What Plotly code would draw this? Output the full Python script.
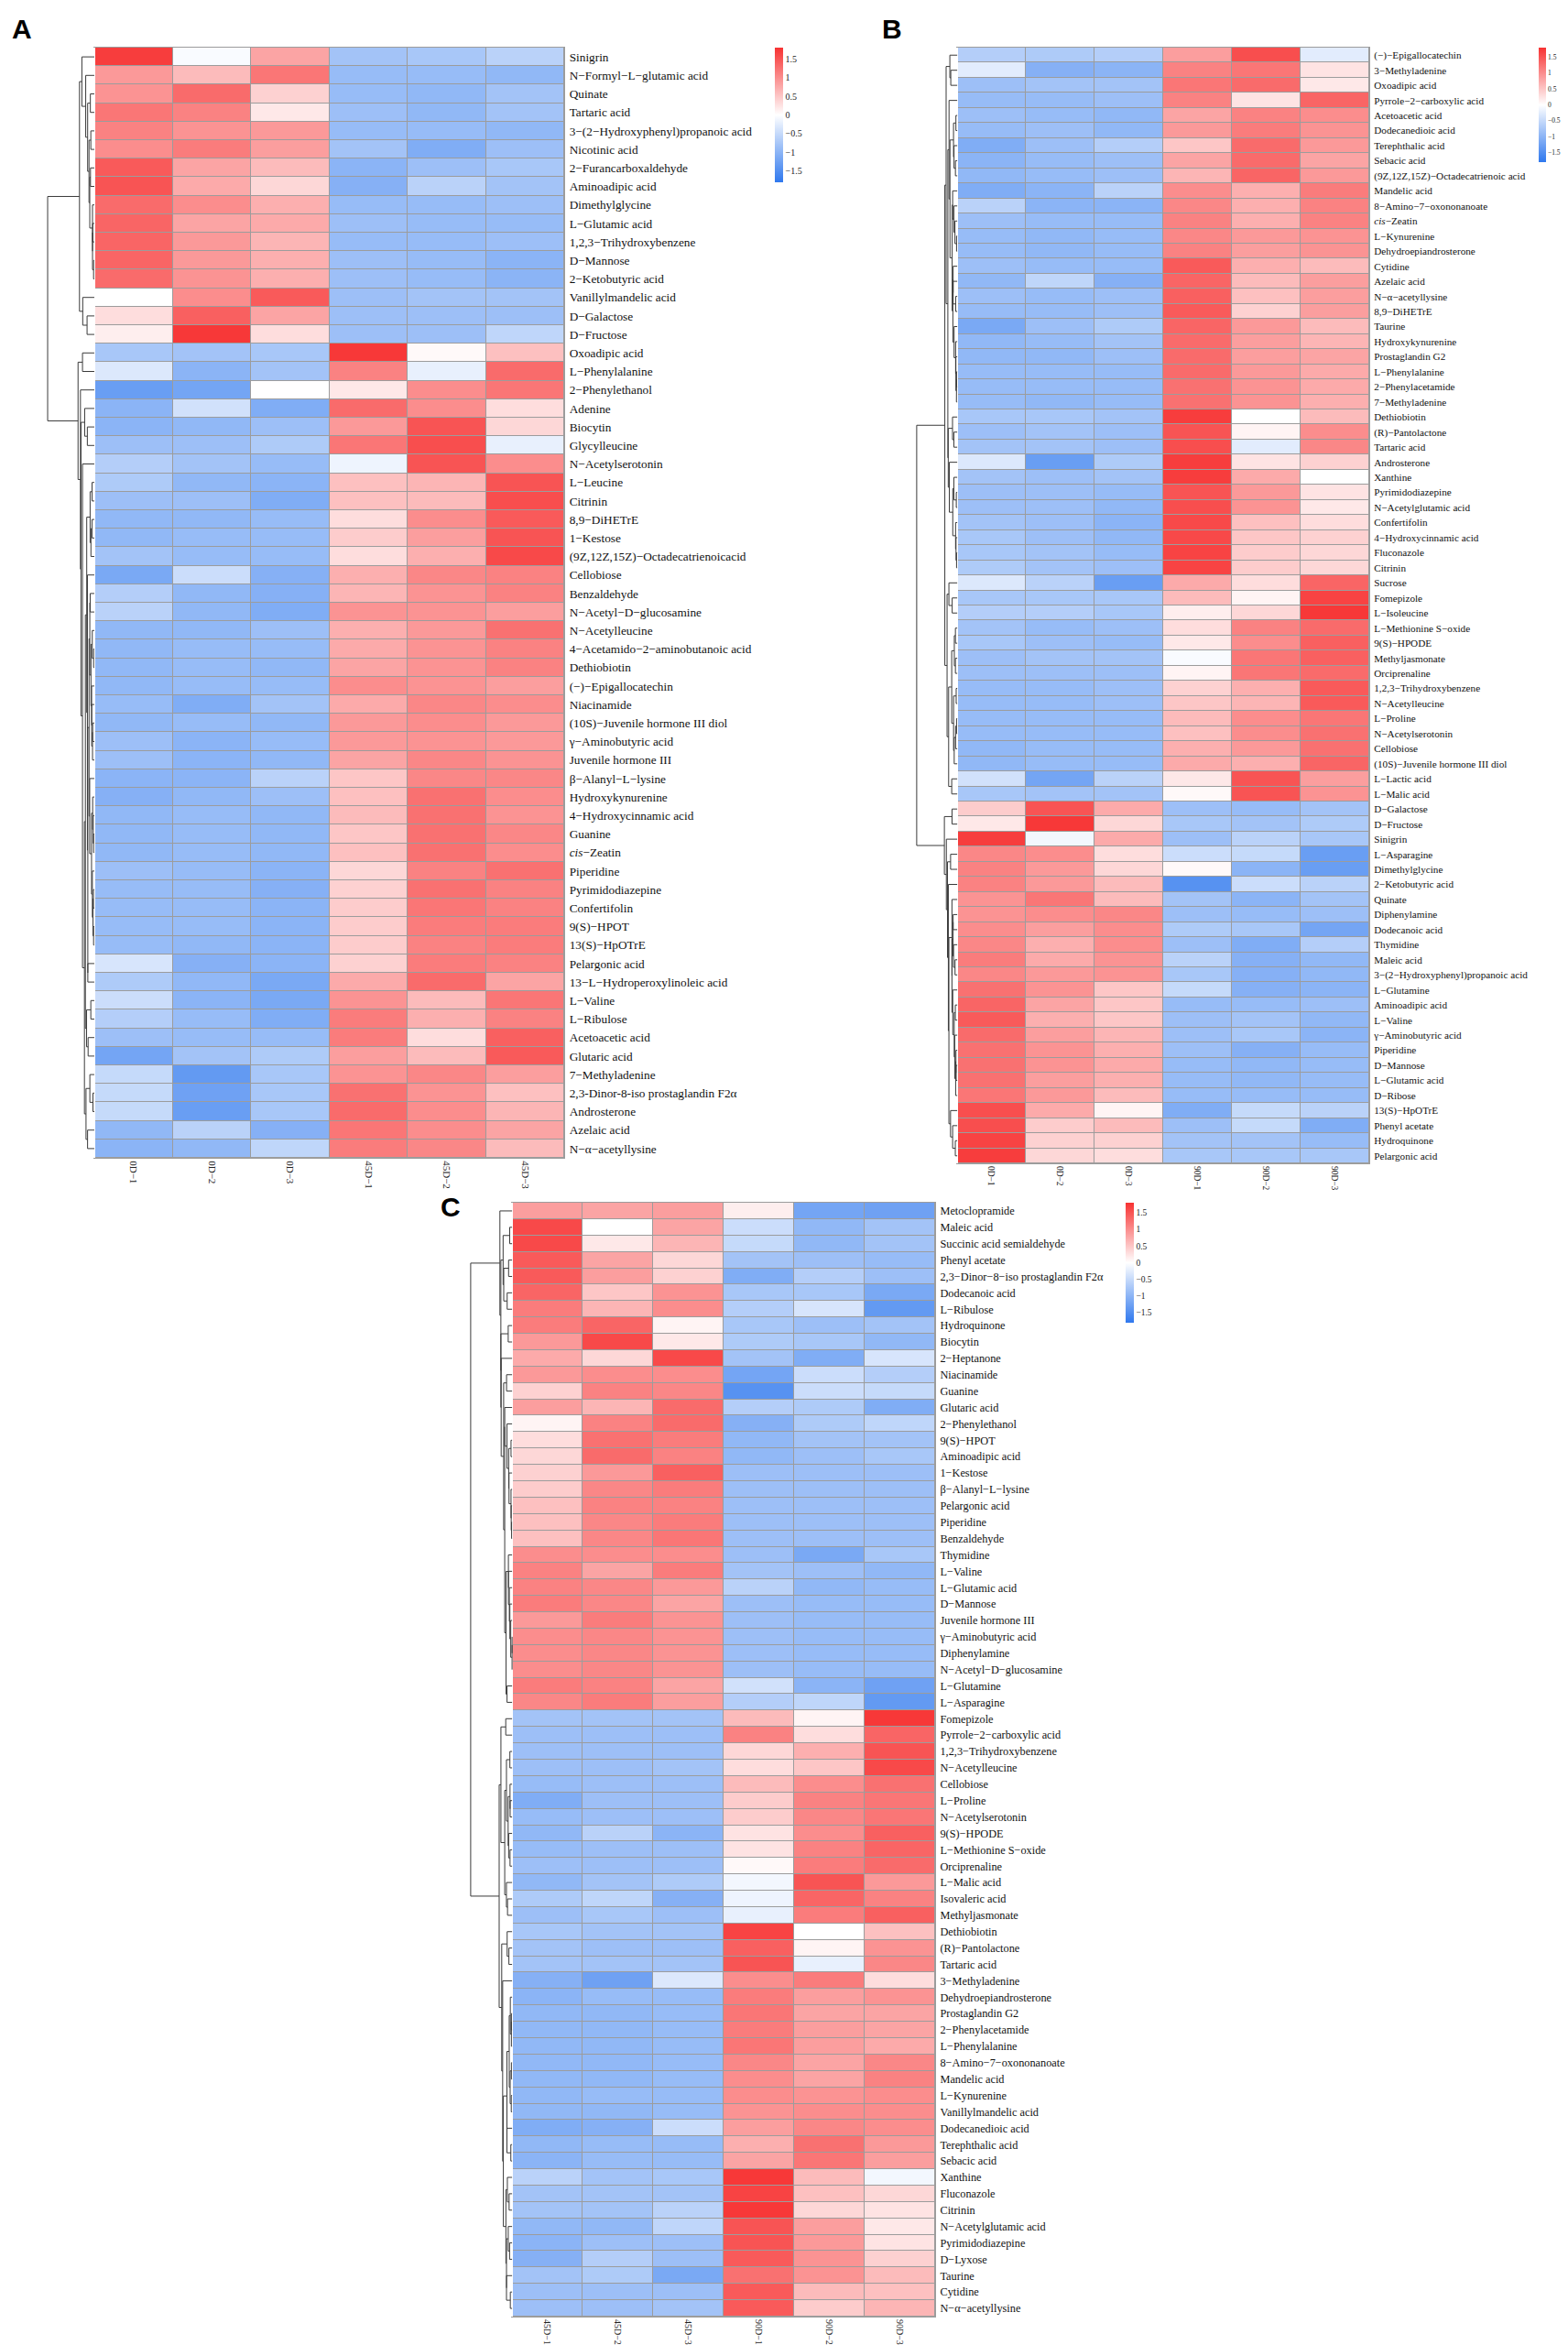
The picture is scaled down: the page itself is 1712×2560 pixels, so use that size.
import numpy as np
import plotly.graph_objects as go

# ---------------- Panel A data ----------------
A_cols = ["0D−1", "0D−2", "0D−3", "45D−1", "45D−2", "45D−3"]
A_rows = ["Sinigrin", "N−Formyl−L−glutamic acid", "Quinate", "Tartaric acid",
          "3−(2−Hydroxyphenyl)propanoic acid", "Nicotinic acid", "2−Furancarboxaldehyde",
          "Aminoadipic acid", "Dimethylglycine", "L−Glutamic acid", "1,2,3−Trihydroxybenzene",
          "D−Mannose", "2−Ketobutyric acid", "Vanillylmandelic acid", "D−Galactose", "D−Fructose",
          "Oxoadipic acid", "L−Phenylalanine", "2−Phenylethanol", "Adenine", "Biocytin",
          "Glycylleucine", "N−Acetylserotonin", "L−Leucine", "Citrinin", "8,9−DiHETrE",
          "1−Kestose", "(9Z,12Z,15Z)−Octadecatrienoicacid", "Cellobiose", "Benzaldehyde",
          "N−Acetyl−D−glucosamine", "N−Acetylleucine", "4−Acetamido−2−aminobutanoic acid",
          "Dethiobiotin", "(−)−Epigallocatechin", "Niacinamide", "(10S)−Juvenile hormone III diol",
          "γ−Aminobutyric acid", "Juvenile hormone III", "β−Alanyl−L−lysine", "Hydroxykynurenine",
          "4−Hydroxycinnamic acid", "Guanine", "<i>cis</i>−Zeatin", "Piperidine", "Pyrimidodiazepine",
          "Confertifolin", "9(S)−HPOT", "13(S)−HpOTrE", "Pelargonic acid",
          "13−L−Hydroperoxylinoleic acid", "L−Valine", "L−Ribulose", "Acetoacetic acid",
          "Glutaric acid", "7−Methyladenine", "2,3-Dinor-8-iso prostaglandin F2α", "Androsterone",
          "Azelaic acid", "N−α−acetyllysine"]
A_vals = [
    [1.7, -0.05, 0.8, -0.8, -0.75, -0.6],
    [0.9, 0.6, 1.2, -0.9, -0.9, -0.95],
    [0.95, 1.3, 0.4, -0.9, -0.95, -0.8],
    [1.2, 1.1, 0.2, -0.85, -0.95, -0.8],
    [1.1, 0.95, 0.9, -0.9, -0.9, -0.95],
    [1.0, 1.15, 0.85, -0.8, -1.1, -0.85],
    [1.45, 0.8, 0.6, -1.0, -0.85, -0.75],
    [1.5, 0.75, 0.35, -1.05, -0.6, -0.8],
    [1.3, 1.0, 0.7, -0.9, -0.9, -0.85],
    [1.35, 0.8, 0.75, -0.85, -0.9, -0.9],
    [1.35, 0.9, 0.65, -0.9, -0.9, -0.85],
    [1.35, 0.9, 0.7, -0.85, -0.9, -1.0],
    [1.3, 0.95, 0.7, -0.85, -0.9, -1.0],
    [0.0, 1.0, 1.45, -0.85, -0.8, -0.8],
    [0.3, 1.4, 0.8, -0.85, -0.85, -0.85],
    [0.15, 1.75, 0.3, -0.85, -0.85, -0.55],
    [-0.75, -0.8, -0.75, 1.75, 0.05, 0.55],
    [-0.3, -1.0, -0.8, 1.1, -0.2, 1.3],
    [-1.3, -1.2, 0.0, 0.2, 1.0, 1.2],
    [-1.0, -0.4, -1.1, 1.3, 1.0, 0.3],
    [-1.0, -0.95, -0.85, 0.9, 1.5, 0.35],
    [-0.85, -0.85, -0.7, 1.2, 1.55, -0.2],
    [-0.65, -0.8, -0.9, -0.15, 1.5, 1.0],
    [-0.7, -0.95, -1.0, 0.55, 0.65, 1.5],
    [-0.85, -0.85, -1.1, 0.55, 0.6, 1.55],
    [-0.95, -0.95, -0.9, 0.3, 1.0, 1.45],
    [-0.95, -0.9, -0.9, 0.45, 0.85, 1.5],
    [-0.8, -0.9, -0.9, 0.3, 0.7, 1.6],
    [-1.15, -0.45, -1.05, 0.7, 1.05, 1.1],
    [-0.65, -0.95, -1.05, 0.65, 0.95, 1.1],
    [-0.6, -0.95, -1.1, 0.95, 0.95, 0.85],
    [-0.95, -0.95, -0.85, 0.7, 0.9, 1.25],
    [-0.95, -0.9, -0.9, 0.75, 0.95, 1.1],
    [-0.95, -0.9, -0.95, 0.8, 0.95, 1.1],
    [-0.95, -0.9, -0.9, 1.0, 0.95, 0.85],
    [-0.9, -1.1, -0.8, 0.75, 1.05, 1.0],
    [-0.95, -0.9, -0.95, 0.9, 1.0, 0.9],
    [-0.85, -1.0, -0.9, 0.9, 0.95, 0.9],
    [-0.85, -1.0, -0.95, 0.8, 1.05, 0.95],
    [-1.0, -1.0, -0.6, 0.5, 1.05, 1.05],
    [-1.05, -0.95, -0.85, 0.55, 1.25, 1.0],
    [-0.95, -0.9, -0.95, 0.6, 1.25, 0.95],
    [-0.95, -0.9, -0.95, 0.5, 1.25, 1.05],
    [-0.95, -0.9, -0.95, 0.55, 1.25, 1.0],
    [-0.85, -0.9, -1.0, 0.35, 1.1, 1.25],
    [-0.9, -0.9, -1.05, 0.4, 1.25, 1.1],
    [-0.9, -0.9, -1.0, 0.45, 1.2, 1.1],
    [-0.9, -0.9, -1.0, 0.45, 1.15, 1.15],
    [-0.9, -0.95, -1.0, 0.45, 1.1, 1.15],
    [-0.35, -1.05, -1.0, 0.4, 1.15, 1.1],
    [-0.7, -0.95, -1.15, 0.75, 1.3, 0.8],
    [-0.45, -1.0, -1.15, 0.95, 0.6, 1.2],
    [-0.65, -0.9, -1.1, 1.15, 0.7, 1.1],
    [-0.85, -0.9, -0.9, 1.15, 0.3, 1.4],
    [-1.2, -0.8, -0.7, 0.85, 0.6, 1.45],
    [-0.5, -1.35, -0.75, 0.95, 1.05, 0.85],
    [-0.5, -1.25, -0.75, 1.25, 0.95, 0.55],
    [-0.5, -1.3, -0.75, 1.3, 1.0, 0.65],
    [-0.95, -0.6, -1.05, 1.2, 1.0, 0.8],
    [-1.0, -0.95, -0.55, 1.15, 1.05, 0.6],
]

# ---------------- Panel B data ----------------
B_cols = ["0D−1", "0D−2", "0D−3", "90D−1", "90D−2", "90D−3"]
B_rows = ["(−)−Epigallocatechin", "3−Methyladenine", "Oxoadipic acid", "Pyrrole−2−carboxylic acid",
          "Acetoacetic acid", "Dodecanedioic acid", "Terephthalic acid", "Sebacic acid",
          "(9Z,12Z,15Z)−Octadecatrienoic acid", "Mandelic acid", "8−Amino−7−oxononanoate",
          "<i>cis</i>−Zeatin", "L−Kynurenine", "Dehydroepiandrosterone", "Cytidine", "Azelaic acid",
          "N−α−acetyllysine", "8,9−DiHETrE", "Taurine", "Hydroxykynurenine", "Prostaglandin G2",
          "L−Phenylalanine", "2−Phenylacetamide", "7−Methyladenine", "Dethiobiotin",
          "(R)−Pantolactone", "Tartaric acid", "Androsterone", "Xanthine", "Pyrimidodiazepine",
          "N−Acetylglutamic acid", "Confertifolin", "4−Hydroxycinnamic acid", "Fluconazole",
          "Citrinin", "Sucrose", "Fomepizole", "L−Isoleucine", "L−Methionine S−oxide", "9(S)−HPODE",
          "Methyljasmonate", "Orciprenaline", "1,2,3−Trihydroxybenzene", "N−Acetylleucine",
          "L−Proline", "N−Acetylserotonin", "Cellobiose", "(10S)−Juvenile hormone III diol",
          "L−Lactic acid", "L−Malic acid", "D−Galactose", "D−Fructose", "Sinigrin", "L−Asparagine",
          "Dimethylglycine", "2−Ketobutyric acid", "Quinate", "Diphenylamine", "Dodecanoic acid",
          "Thymidine", "Maleic acid", "3−(2−Hydroxyphenyl)propanoic acid", "L−Glutamine",
          "Aminoadipic acid", "L−Valine", "γ−Aminobutyric acid", "Piperidine", "D−Mannose",
          "L−Glutamic acid", "D−Ribose", "13(S)−HpOTrE", "Phenyl acetate", "Hydroquinone",
          "Pelargonic acid"]
B_vals = [
    [-0.65, -0.7, -0.65, 0.85, 1.55, -0.25],
    [-0.25, -1.05, -1.0, 1.1, 1.2, 0.25],
    [-0.85, -0.8, -0.8, 1.2, 1.3, 0.2],
    [-0.9, -0.9, -0.85, 1.1, 0.25, 1.35],
    [-0.85, -0.9, -0.95, 0.8, 1.1, 1.0],
    [-0.9, -0.85, -0.95, 0.9, 1.15, 0.95],
    [-1.1, -0.85, -0.65, 0.5, 1.3, 0.9],
    [-1.0, -0.9, -0.85, 0.8, 1.3, 0.8],
    [-0.95, -0.9, -0.85, 0.65, 1.35, 0.9],
    [-1.1, -1.0, -0.6, 1.0, 0.7, 1.15],
    [-0.6, -1.0, -1.0, 1.05, 0.7, 1.1],
    [-0.85, -0.9, -0.9, 1.1, 0.7, 1.1],
    [-0.9, -0.95, -0.9, 1.05, 0.9, 0.95],
    [-0.9, -0.95, -0.9, 1.1, 0.85, 0.95],
    [-0.85, -0.9, -0.9, 1.45, 0.7, 0.6],
    [-0.95, -0.55, -1.05, 1.35, 0.6, 0.85],
    [-0.85, -0.9, -0.85, 1.4, 0.55, 0.85],
    [-0.9, -0.9, -0.85, 1.45, 0.4, 0.85],
    [-1.15, -0.85, -0.7, 1.35, 0.9, 0.6],
    [-0.95, -0.9, -0.8, 1.3, 0.85, 0.65],
    [-0.95, -0.95, -0.85, 1.3, 0.85, 0.8],
    [-0.9, -0.9, -0.9, 1.3, 0.9, 0.75],
    [-0.9, -0.9, -0.9, 1.25, 0.95, 0.75],
    [-0.9, -0.95, -0.9, 1.25, 0.95, 0.7],
    [-0.75, -0.75, -0.8, 1.7, 0.0, 0.6],
    [-0.85, -0.8, -0.85, 1.5, 0.1, 1.0],
    [-0.8, -0.8, -0.85, 1.55, -0.25, 1.05],
    [-0.3, -1.3, -0.7, 1.7, 0.25, 0.4],
    [-0.8, -0.85, -0.8, 1.7, 0.75, 0.0],
    [-0.85, -0.85, -0.9, 1.5, 0.9, 0.25],
    [-0.85, -0.85, -0.95, 1.55, 0.95, 0.2],
    [-0.8, -0.85, -1.0, 1.6, 0.55, 0.3],
    [-0.75, -0.85, -0.95, 1.6, 0.5, 0.4],
    [-0.75, -0.8, -0.9, 1.65, 0.45, 0.35],
    [-0.7, -0.8, -0.85, 1.65, 0.45, 0.35],
    [-0.3, -0.6, -1.3, 0.75, 0.3, 1.35],
    [-0.75, -0.75, -0.75, 0.6, 0.1, 1.65],
    [-0.65, -0.65, -0.75, 0.15, 0.35, 1.75],
    [-0.8, -0.9, -0.85, 0.3, 1.1, 1.3],
    [-0.75, -0.85, -0.9, 0.2, 1.0, 1.4],
    [-0.85, -0.8, -0.8, -0.05, 1.2, 1.4],
    [-0.85, -0.85, -0.85, 0.1, 1.2, 1.3],
    [-0.9, -0.9, -0.85, 0.4, 0.7, 1.45],
    [-0.9, -0.9, -0.85, 0.5, 0.65, 1.45],
    [-0.9, -0.9, -0.9, 0.6, 1.0, 1.2],
    [-0.9, -0.9, -0.9, 0.55, 1.0, 1.25],
    [-0.95, -0.9, -0.9, 0.7, 0.9, 1.25],
    [-0.95, -0.9, -0.9, 0.75, 0.7, 1.35],
    [-0.4, -1.2, -0.6, 0.2, 1.5, 0.85],
    [-0.75, -0.8, -0.8, 0.05, 1.5, 0.95],
    [0.45, 1.5, 0.75, -0.85, -0.9, -0.8],
    [0.2, 1.75, 0.35, -0.75, -0.8, -0.7],
    [1.7, -0.1, 0.75, -0.85, -0.6, -0.75],
    [1.05, 1.0, 0.3, -0.45, -0.5, -1.3],
    [1.1, 0.9, 0.35, 0.05, -1.0, -1.3],
    [1.1, 0.9, 0.6, -1.45, -0.45, -0.6],
    [0.95, 1.2, 0.6, -0.8, -1.0, -0.8],
    [0.95, 1.0, 1.05, -0.85, -0.9, -0.85],
    [1.0, 0.85, 1.0, -0.7, -0.75, -1.2],
    [1.05, 0.7, 1.0, -0.85, -1.1, -0.65],
    [1.15, 0.75, 0.95, -0.6, -1.05, -0.95],
    [1.05, 0.9, 0.95, -0.75, -1.05, -0.95],
    [1.25, 0.95, 0.5, -0.5, -1.05, -1.0],
    [1.35, 0.8, 0.5, -0.9, -0.9, -0.85],
    [1.45, 0.7, 0.5, -0.85, -0.8, -0.95],
    [1.3, 0.85, 0.65, -0.85, -0.75, -1.0],
    [1.25, 0.95, 0.7, -0.85, -1.05, -0.9],
    [1.25, 0.95, 0.75, -0.9, -0.95, -0.9],
    [1.25, 0.85, 0.7, -0.9, -0.95, -0.9],
    [1.2, 0.9, 0.6, -0.9, -0.9, -0.9],
    [1.55, 0.75, 0.1, -1.1, -0.5, -0.6],
    [1.55, 0.45, 0.6, -0.85, -0.5, -1.1],
    [1.65, 0.4, 0.4, -0.8, -0.8, -0.9],
    [1.7, 0.35, 0.3, -0.75, -0.75, -0.75],
]

# ---------------- Panel C data ----------------
C_cols = ["45D−1", "45D−2", "45D−3", "90D−1", "90D−2", "90D−3"]
C_rows = ["Metoclopramide", "Maleic acid", "Succinic acid semialdehyde", "Phenyl acetate",
          "2,3−Dinor−8−iso prostaglandin F2α", "Dodecanoic acid", "L−Ribulose", "Hydroquinone",
          "Biocytin", "2−Heptanone", "Niacinamide", "Guanine", "Glutaric acid", "2−Phenylethanol",
          "9(S)−HPOT", "Aminoadipic acid", "1−Kestose", "β−Alanyl−L−lysine", "Pelargonic acid",
          "Piperidine", "Benzaldehyde", "Thymidine", "L−Valine", "L−Glutamic acid", "D−Mannose",
          "Juvenile hormone III", "γ−Aminobutyric acid", "Diphenylamine", "N−Acetyl−D−glucosamine",
          "L−Glutamine", "L−Asparagine", "Fomepizole", "Pyrrole−2−carboxylic acid",
          "1,2,3−Trihydroxybenzene", "N−Acetylleucine", "Cellobiose", "L−Proline",
          "N−Acetylserotonin", "9(S)−HPODE", "L−Methionine S−oxide", "Orciprenaline",
          "L−Malic acid", "Isovaleric acid", "Methyljasmonate", "Dethiobiotin", "(R)−Pantolactone",
          "Tartaric acid", "3−Methyladenine", "Dehydroepiandrosterone", "Prostaglandin G2",
          "2−Phenylacetamide", "L−Phenylalanine", "8−Amino−7−oxononanoate", "Mandelic acid",
          "L−Kynurenine", "Vanillylmandelic acid", "Dodecanedioic acid", "Terephthalic acid",
          "Sebacic acid", "Xanthine", "Fluconazole", "Citrinin", "N−Acetylglutamic acid",
          "Pyrimidodiazepine", "D−Lyxose", "Taurine", "Cytidine", "N−α−acetyllysine"]
C_vals = [
    [0.85, 0.8, 0.85, 0.15, -1.2, -1.25],
    [1.6, 0.0, 0.8, -0.45, -0.95, -0.8],
    [1.6, 0.2, 0.65, -0.5, -0.95, -0.8],
    [1.45, 0.8, 0.35, -0.8, -0.85, -0.9],
    [1.45, 0.85, 0.4, -1.1, -0.65, -0.85],
    [1.35, 0.5, 0.95, -0.75, -0.75, -1.15],
    [1.15, 0.65, 1.0, -0.65, -0.35, -1.35],
    [1.15, 1.35, 0.1, -0.75, -0.85, -0.8],
    [0.9, 1.6, 0.2, -0.7, -0.75, -0.95],
    [0.75, 0.35, 1.6, -0.8, -1.1, -0.35],
    [0.9, 1.0, 1.0, -1.2, -0.45, -0.65],
    [0.4, 1.1, 1.05, -1.45, -0.45, -0.5],
    [0.85, 0.65, 1.3, -0.65, -0.7, -1.1],
    [0.1, 1.1, 1.3, -1.05, -0.7, -0.55],
    [0.3, 1.25, 1.15, -0.95, -0.8, -0.8],
    [0.35, 1.3, 1.1, -0.95, -0.85, -0.75],
    [0.4, 0.9, 1.4, -0.85, -0.85, -0.85],
    [0.45, 1.05, 1.15, -0.85, -0.85, -0.85],
    [0.55, 1.1, 1.1, -0.85, -0.85, -0.85],
    [0.55, 1.05, 1.15, -0.85, -0.85, -0.85],
    [0.55, 1.05, 1.2, -0.85, -0.85, -0.85],
    [1.0, 1.0, 1.0, -0.85, -1.15, -0.75],
    [1.1, 0.8, 1.15, -0.8, -0.85, -0.95],
    [1.1, 1.05, 0.9, -0.6, -0.95, -0.9],
    [1.15, 1.05, 0.8, -0.85, -0.9, -0.9],
    [0.9, 1.15, 0.95, -0.85, -0.9, -0.9],
    [1.0, 1.05, 0.95, -0.85, -0.9, -0.9],
    [1.0, 1.05, 0.95, -0.85, -0.9, -0.9],
    [1.0, 1.05, 0.95, -0.85, -0.9, -0.9],
    [1.15, 1.1, 0.8, -0.4, -1.0, -1.25],
    [1.05, 1.15, 0.85, -0.65, -0.55, -1.35],
    [-0.8, -0.8, -0.8, 0.6, 0.1, 1.75],
    [-0.85, -0.85, -0.85, 1.1, 0.3, 1.35],
    [-0.85, -0.85, -0.85, 0.35, 0.7, 1.5],
    [-0.85, -0.85, -0.8, 0.3, 0.5, 1.6],
    [-0.9, -0.85, -0.85, 0.6, 1.0, 1.25],
    [-1.1, -0.85, -0.85, 0.45, 1.1, 1.2],
    [-0.9, -0.85, -0.85, 0.45, 1.05, 1.2],
    [-0.95, -0.6, -1.0, 0.25, 1.0, 1.4],
    [-0.9, -0.85, -0.85, 0.25, 1.1, 1.35],
    [-0.85, -0.85, -0.85, 0.05, 1.15, 1.3],
    [-0.95, -0.8, -0.7, -0.1, 1.5, 0.9],
    [-0.7, -0.55, -1.05, -0.15, 1.35, 1.1],
    [-0.85, -0.75, -0.85, -0.2, 1.15, 1.4],
    [-0.75, -0.8, -0.8, 1.65, 0.0, 0.55],
    [-0.8, -0.85, -0.85, 1.4, 0.1, 0.95],
    [-0.8, -0.8, -0.8, 1.5, -0.2, 1.05],
    [-1.05, -1.25, -0.3, 1.0, 1.15, 0.3],
    [-1.0, -0.9, -0.9, 1.15, 0.85, 0.95],
    [-0.95, -0.95, -0.9, 1.2, 0.8, 0.8],
    [-0.95, -0.95, -0.9, 1.15, 0.85, 0.8],
    [-0.95, -0.95, -0.9, 1.2, 0.85, 0.75],
    [-0.95, -0.95, -0.9, 1.05, 0.8, 1.05],
    [-0.95, -0.95, -0.9, 1.0, 0.8, 1.1],
    [-0.95, -0.9, -0.9, 1.0, 0.95, 1.0],
    [-0.95, -0.95, -0.9, 0.95, 1.0, 1.0],
    [-1.1, -1.05, -0.45, 0.85, 1.05, 1.0],
    [-0.95, -0.9, -0.9, 0.7, 1.25, 0.9],
    [-1.0, -0.9, -0.9, 0.8, 1.2, 0.85],
    [-0.6, -0.8, -0.75, 1.75, 0.6, -0.1],
    [-0.8, -0.8, -0.8, 1.65, 0.55, 0.35],
    [-0.8, -0.8, -0.6, 1.75, 0.35, 0.25],
    [-0.95, -0.95, -0.55, 1.5, 0.85, 0.2],
    [-1.0, -0.85, -0.85, 1.5, 0.9, 0.25],
    [-1.05, -0.65, -0.85, 1.45, 0.95, 0.4],
    [-0.8, -0.7, -1.15, 1.25, 0.95, 0.6],
    [-0.85, -0.85, -0.85, 1.45, 0.6, 0.55],
    [-0.85, -0.85, -0.8, 1.45, 0.45, 0.65],
]

CB_TICKS = [1.5, 1, 0.5, 0, -0.5, -1, -1.5]
CB_TEXT = ["1.5", "1", "0.5", "0", "−0.5", "−1", "−1.5"]

# ---------------- styling / geometry ----------------
W, H = 1712, 2560
SERIF = "Liberation Serif, Times New Roman, serif"
CSCALE = [[0.0, "#2f78ee"], [0.5, "#ffffff"], [1.0, "#f73232"]]
ZLIM = 1.8
GRID = "#9c9c9c"


def fx(p):
    return p / W


def fy(p):
    return 1 - p / H


def dendro_lines(vals):
    """Adjacent-constrained average-linkage clustering; returns line coords."""
    Z = np.asarray(vals, dtype=float)
    D = np.sqrt(((Z[:, None, :] - Z[None, :, :]) ** 2).sum(-1))
    cl = [dict(rows=[i], pos=float(i), h=0.0) for i in range(len(Z))]
    xs, ys = [], []
    while len(cl) > 1:
        best, bi = None, 0
        for i in range(len(cl) - 1):
            d = D[np.ix_(cl[i]["rows"], cl[i + 1]["rows"])].mean()
            if best is None or d < best:
                best, bi = d, i
        a, b = cl[bi], cl[bi + 1]
        h = max(best, a["h"], b["h"])
        xs += [a["h"], h, h, b["h"], None]
        ys += [a["pos"], a["pos"], b["pos"], b["pos"], None]
        cl[bi:bi + 2] = [dict(rows=a["rows"] + b["rows"], pos=(a["pos"] + b["pos"]) / 2, h=h)]
    return xs, ys, cl[0]["h"]


panels = [
    dict(vals=A_vals, rows=A_rows, cols=A_cols, hx=(95, 608), hy=(44, 1256), dx=(43, 96),
         fs=13.3, xfs=11, cb=dict(x=838, top=44, len=147, th=9, fs=10), letter="A", lx=3, ly=5),
    dict(vals=B_vals, rows=B_rows, cols=B_cols, hx=(1037, 1487), hy=(44, 1262), dx=(992, 1038),
         fs=11.2, xfs=9.5, cb=dict(x=1672, top=44, len=125, th=8, fs=7.5), letter="B", lx=953, ly=5),
    dict(vals=C_vals, rows=C_rows, cols=C_cols, hx=(551, 1013), hy=(1305, 2521), dx=(505, 552),
         fs=12.3, xfs=10, cb=dict(x=1221, top=1305, len=131, th=9, fs=9.5), letter="C", lx=471, ly=1291),
]

fig = go.Figure()
layout = dict(width=W, height=H, margin=dict(l=0, r=0, t=0, b=0, autoexpand=False),
              paper_bgcolor="white", plot_bgcolor="white", showlegend=False,
              annotations=[], shapes=[])

for k, p in enumerate(panels):
    n = len(p["rows"])
    hi = 2 * k + 1   # heatmap axis index
    di = 2 * k + 2   # dendrogram axis index
    hxn = "x" if hi == 1 else f"x{hi}"
    hyn = "y" if hi == 1 else f"y{hi}"
    cb = p["cb"]
    fig.add_trace(go.Heatmap(
        z=p["vals"], x=list(range(6)), y=list(range(n)),
        colorscale=CSCALE, zmin=-ZLIM, zmax=ZLIM, xgap=1, ygap=1,
        xaxis=hxn, yaxis=hyn, hoverinfo="skip",
        colorbar=dict(x=fx(cb["x"]), xanchor="left", y=fy(cb["top"]), yanchor="top",
                      len=cb["len"], lenmode="pixels", thickness=cb["th"],
                      thicknessmode="pixels", outlinewidth=0, xpad=0, ypad=0,
                      tickvals=CB_TICKS, ticktext=CB_TEXT, ticks="", ticklen=0,
                      ticklabelposition="outside",
                      tickfont=dict(family=SERIF, size=cb["fs"], color="#222"))))
    xs, ys, hmax = dendro_lines(p["vals"])
    fig.add_trace(go.Scatter(x=xs, y=ys, mode="lines", line=dict(color="#3a3a3a", width=1),
                             xaxis=f"x{di}", yaxis=f"y{di}", hoverinfo="skip"))

    # grey cell borders: background rectangle behind the heatmap cells
    layout["shapes"].append(dict(type="rect", xref=hxn, yref=hyn, x0=-0.5, x1=5.5,
                                 y0=-0.5, y1=n - 0.5, fillcolor=GRID, line=dict(width=0),
                                 layer="below"))

    ydom = [fy(p["hy"][1]), fy(p["hy"][0])]
    layout["xaxis" if hi == 1 else f"xaxis{hi}"] = dict(
        domain=[fx(p["hx"][0]), fx(p["hx"][1])], range=[-0.5, 5.5], anchor=hyn,
        tickmode="array", tickvals=list(range(6)), ticktext=p["cols"], tickangle=90,
        ticks="", showgrid=False, zeroline=False, showline=True, linecolor=GRID,
        linewidth=1, mirror=True,
        tickfont=dict(family=SERIF, size=p["xfs"], color="#222"))
    layout["yaxis" if hi == 1 else f"yaxis{hi}"] = dict(
        domain=ydom, range=[n - 0.5, -0.5], anchor=hxn, side="right",
        tickmode="array", tickvals=list(range(n)), ticktext=p["rows"],
        ticks="", showgrid=False, zeroline=False, showline=True, linecolor=GRID,
        linewidth=1, mirror=True, ticklabelstandoff=2,
        tickfont=dict(family=SERIF, size=p["fs"], color="#111"))
    layout[f"xaxis{di}"] = dict(
        domain=[fx(p["dx"][0]), fx(p["dx"][1])], range=[hmax * 1.02, -hmax * 0.02],
        anchor=f"y{di}", visible=False, showgrid=False, zeroline=False)
    layout[f"yaxis{di}"] = dict(
        domain=ydom, range=[n - 0.5, -0.5], anchor=f"x{di}", visible=False,
        showgrid=False, zeroline=False)
    layout["annotations"].append(dict(
        text=f"<b>{p['letter']}</b>", x=fx(p["lx"]), y=fy(p["ly"]), xref="paper", yref="paper",
        xanchor="left", yanchor="top", showarrow=False,
        font=dict(family="Liberation Sans, Arial, sans-serif", size=30, color="black")))

fig.update_layout(**layout)
fig.write_html("out.html")
